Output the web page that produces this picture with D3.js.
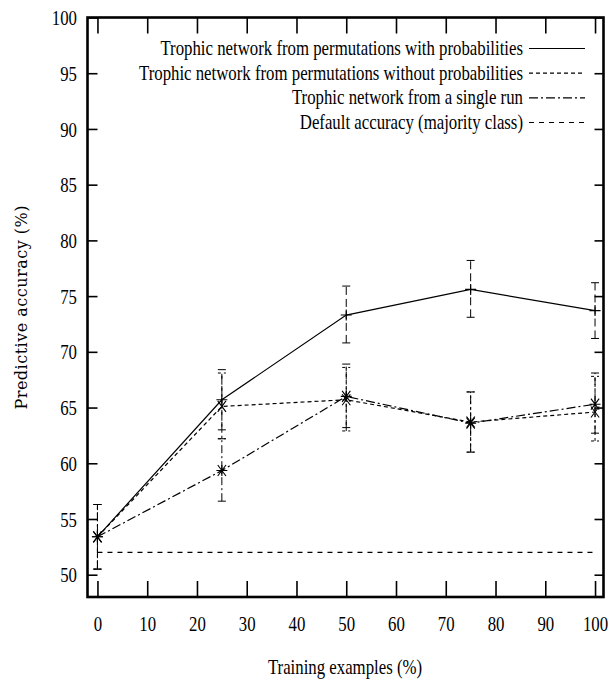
<!DOCTYPE html>
<html>
<head>
<meta charset="utf-8">
<script src="https://cdn.jsdelivr.net/npm/d3@7"></script>
<style>
  body { margin: 0; background: #fff; }
  svg { display: block; }
</style>
</head>
<body>
<div id="chart"></div>
<script>
// training set size (%)
var xValues = [0, 25, 50, 75, 100];

// mean predictive accuracy and error bounds, one set per series
var withProb      = [53.4, 65.7, 73.3, 75.6, 73.7];
var withProbLow   = [50.5, 63.0, 70.8, 73.1, 71.2];
var withProbHigh  = [56.3, 68.4, 75.9, 78.2, 76.2];

var withoutProb     = [53.4, 65.1, 65.7, 63.7, 64.6];
var withoutProbLow  = [50.5, 62.2, 62.9, 61.0, 62.0];
var withoutProbHigh = [56.3, 68.1, 68.6, 66.4, 67.8];

var singleRun     = [53.4, 59.35, 66.0, 63.6, 65.3];
var singleRunLow  = [50.5, 56.6, 63.2, 61.0, 62.7];
var singleRunHigh = [56.3, 62.2, 68.9, 66.4, 68.1];

var defaultX   = [0, 100];
var defaultAcc = [52, 52];

var legendLabels = [
    'Trophic network from permutations with probabilities',
    'Trophic network from permutations without probabilities',
    'Trophic network from a single run',
    'Default accuracy (majority class)'
];

var xTicks = d3.range(0, 101, 10);
var yTicks = d3.range(50, 101, 5);

var svgW = 613, svgH = 684;
var plotL = 87.5, plotR = 603.5, plotT = 17.5, plotB = 597;
var sx = 0.8;                       // text is horizontally condensed
var squeeze = 'scale(' + sx + ',1)';
var fontSize = '21px';
var font = '"Liberation Serif", "Times New Roman", serif';

var x = d3.scaleLinear().domain([-2, 101.7]).range([plotL, plotR]);
var y = d3.scaleLinear().domain([48, 100]).range([plotB, plotT]);

var svg = d3.select('#chart').append('svg')
    .attr('width', svgW)
    .attr('height', svgH)
    .style('font-family', font);

// axes, ticks pointing inwards
var ax = svg.append('g').attr('class', 'axes');

var yLeft = d3.axisLeft(y).tickValues(yTicks).tickSizeInner(-10).tickSizeOuter(0).tickPadding(10.5);
var yRight = d3.axisRight(y).tickValues(yTicks).tickSizeInner(-9).tickSizeOuter(0).tickFormat('');
var xBottom = d3.axisBottom(x).tickValues(xTicks).tickSizeInner(-16).tickSizeOuter(0).tickPadding(34);
var xTop = d3.axisTop(x).tickValues(xTicks).tickSizeInner(-16).tickSizeOuter(0).tickFormat('');

var gl = ax.append('g').attr('transform', 'translate(' + plotL + ',0)').call(yLeft);
var gr = ax.append('g').attr('transform', 'translate(' + plotR + ',0)').call(yRight);
var gb = ax.append('g').attr('transform', 'translate(0,' + plotB + ')').call(xBottom);
var gt = ax.append('g').attr('transform', 'translate(0,' + plotT + ')').call(xTop);

ax.selectAll('.domain').remove();
ax.selectAll('.tick line').attr('stroke', '#000').attr('stroke-width', 1.6);
ax.selectAll('.tick text')
    .attr('fill', '#000')
    .style('font-family', font)
    .style('font-size', fontSize);

gl.selectAll('.tick text')
    .attr('x', -10.5 / sx)
    .attr('dy', '0.34em')
    .attr('transform', squeeze);
gb.selectAll('.tick text')
    .attr('y', 34)
    .attr('dy', null)
    .attr('transform', squeeze);

// frame
svg.append('rect')
    .attr('x', plotL).attr('y', plotT)
    .attr('width', plotR - plotL).attr('height', plotB - plotT)
    .attr('fill', 'none').attr('stroke', '#000').attr('stroke-width', 2.6);

// axis titles
svg.append('text')
    .attr('transform', 'translate(345,674) ' + squeeze)
    .attr('text-anchor', 'middle')
    .style('font-size', fontSize)
    .text('Training examples (%)');

svg.append('text')
    .attr('transform', 'translate(27,' + ((plotT + plotB) / 2) + ') rotate(-90)')
    .attr('text-anchor', 'middle')
    .style('font-family', '"DejaVu Serif", serif')
    .style('font-size', '16px')
    .style('letter-spacing', '0.5px')
    .text('Predictive accuracy (%)');

// series
var series = [
    {mean: withProb, low: withProbLow, high: withProbHigh, dash: null, barDash: '8,4', marker: 'plus'},
    {mean: withoutProb, low: withoutProbLow, high: withoutProbHigh, dash: '4,3', barDash: '3,3', marker: 'cross'},
    {mean: singleRun, low: singleRunLow, high: singleRunHigh, dash: '9,3,2,3', barDash: '8,3,2,3', marker: 'star'}
];

var line = d3.line()
    .x(function (d) { return x(d[0]); })
    .y(function (d) { return y(d[1]); });

var plot = svg.append('g').attr('class', 'plot');

// default accuracy line
plot.append('path')
    .datum(d3.zip(defaultX, defaultAcc))
    .attr('d', line)
    .attr('fill', 'none').attr('stroke', '#000')
    .attr('stroke-width', 1.1)
    .attr('stroke-dasharray', '5,5');

series.forEach(function (s) {
    var pts = d3.zip(xValues, s.mean, s.low, s.high);

    plot.append('path')
        .datum(pts)
        .attr('d', line)
        .attr('fill', 'none').attr('stroke', '#000')
        .attr('stroke-width', 1.2)
        .attr('stroke-dasharray', s.dash);

    // error bars with caps
    plot.selectAll(null)
        .data(pts)
        .enter().append('path')
        .attr('d', function (d) {
            var cx = x(d[0]), y0 = y(d[2]), y1 = y(d[3]);
            return 'M' + cx + ',' + y0 + 'V' + y1 +
                'M' + (cx - 4) + ',' + y1 + 'H' + (cx + 4) +
                'M' + (cx - 4) + ',' + y0 + 'H' + (cx + 4);
        })
        .attr('fill', 'none').attr('stroke', '#000')
        .attr('stroke-width', 1)
        .attr('stroke-dasharray', s.barDash);

    // point markers
    plot.selectAll(null)
        .data(pts)
        .enter().append('path')
        .attr('d', function (d) {
            var cx = x(d[0]), cy = y(d[1]), r = 5.5, p = '';
            if (s.marker === 'plus' || s.marker === 'star') {
                p += 'M' + (cx - r) + ',' + cy + 'H' + (cx + r) + 'M' + cx + ',' + (cy - r) + 'V' + (cy + r);
            }
            if (s.marker === 'cross' || s.marker === 'star') {
                p += 'M' + (cx - r * 0.75) + ',' + (cy - r) + 'L' + (cx + r * 0.75) + ',' + (cy + r) +
                    'M' + (cx - r * 0.75) + ',' + (cy + r) + 'L' + (cx + r * 0.75) + ',' + (cy - r);
            }
            return p;
        })
        .attr('fill', 'none').attr('stroke', '#000')
        .attr('stroke-width', 1.1);
});

// legend, right-aligned text with line samples
var dashes = [null, '4,3', '9,3,2,3', '5,5'];
var legend = svg.append('g').attr('class', 'legend');
var rowY = d3.scaleLinear().domain([0, 3]).range([48.5, 122.5]);

legendLabels.forEach(function (label, i) {
    legend.append('text')
        .attr('transform', 'translate(523,' + (rowY(i) + 6.5) + ') ' + squeeze)
        .attr('text-anchor', 'end')
        .style('font-size', fontSize)
        .text(label);
    legend.append('line')
        .attr('x1', 529).attr('x2', 585)
        .attr('y1', rowY(i)).attr('y2', rowY(i))
        .attr('stroke', '#000').attr('stroke-width', 1.2)
        .attr('stroke-dasharray', dashes[i]);
});
</script>
</body>
</html>
